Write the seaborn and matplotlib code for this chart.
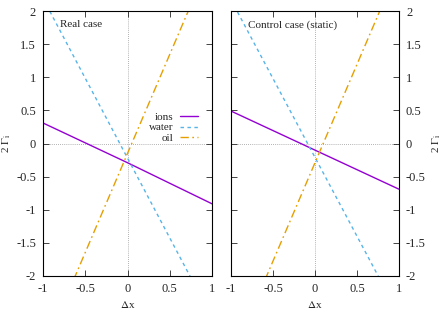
import numpy as np
import pandas as pd
import matplotlib
matplotlib.use("Agg")
import matplotlib.pyplot as plt
import seaborn as sns

# data (values at x = -1, 0, 1)
x = [-1.0, 0.0, 1.0]
series = ["ions", "water", "oil"]

real_ions = [0.31, -0.29, -0.91]
real_water = [2.19, -0.22, -2.63]
real_oil = [-3.14, -0.15, 2.84]

static_ions = [0.49, -0.10, -0.69]
static_water = [2.17, -0.21, -2.59]
static_oil = [-3.26, -0.29, 2.68]

titles = ["Real case", "Control case (static)"]
ticks = [-1, -0.5, 0, 0.5, 1]
yticks = [-2, -1.5, -1, -0.5, 0, 0.5, 1, 1.5, 2]

colors = {"ions": "#9400D3", "water": "#56B4E9", "oil": "#E69F00"}
dashes = {"ions": "", "water": (2.5, 2.5), "oil": (6, 2.5, 1.2, 2.5)}

FS = 9
FS_TXT = 8

sns.set_style("ticks")
plt.rcParams["font.family"] = ["Liberation Serif", "DejaVu Serif"]
plt.rcParams["mathtext.fontset"] = "stix"
plt.rcParams["font.size"] = FS


def make_df(ions, water, oil):
    rows = []
    for name, vals in zip(series, [ions, water, oil]):
        for xi, yi in zip(x, vals):
            rows.append({"x": xi, "y": yi, "series": name})
    return pd.DataFrame(rows)


fig = plt.figure(figsize=(4.43, 3.10), dpi=100)
ax1 = fig.add_axes([43 / 443, 34 / 310, 169 / 443, 265 / 310])
ax2 = fig.add_axes([231 / 443, 34 / 310, 168 / 443, 265 / 310])

dfs = [make_df(real_ions, real_water, real_oil),
       make_df(static_ions, static_water, static_oil)]

for i, (ax, df) in enumerate(zip([ax1, ax2], dfs)):
    sns.lineplot(data=df, x="x", y="y", hue="series", style="series",
                 hue_order=series, style_order=series, palette=colors,
                 dashes=dashes, linewidth=1.0, legend=False, ax=ax)
    handles = list(ax.get_lines()[:3])
    ax.axhline(0, color="#999999", lw=0.6, ls=(0, (1, 1.5)), zorder=0)
    ax.axvline(0, color="#999999", lw=0.6, ls=(0, (1, 1.5)), zorder=0)
    ax.set_xlim(-1, 1)
    ax.set_ylim(-2, 2)
    ax.set_xticks(ticks)
    ax.set_xticklabels(["-1", "-0.5", "0", "0.5", "1"])
    ax.set_yticks(yticks)
    ax.set_yticklabels(["-2", "-1.5", "-1", "-0.5", "0", "0.5", "1", "1.5", "2"])
    ax.tick_params(direction="in", length=4, width=0.6, top=True, right=True,
                   left=True, bottom=True, labelsize=FS, pad=5)
    for sp in ax.spines.values():
        sp.set_linewidth(0.8)
        sp.set_color("black")
    ax.set_xlabel(r"$\Delta$x", fontsize=FS_TXT, labelpad=3)
    ax.text(0.1, 0.948, titles[i], transform=ax.transAxes,
            ha="left", va="center", fontsize=FS_TXT)
    ax.set_ylabel(r"2 $\Gamma_{\rm i}$", fontsize=FS_TXT)
    if i == 0:
        ax.yaxis.set_label_coords(-0.178, 0.5)
        ax.legend(handles=handles, labels=series, loc="center right",
                  bbox_to_anchor=(0.95, 0.56), frameon=False, markerfirst=False,
                  handlelength=1.6, handletextpad=0.6, labelspacing=0.1,
                  borderpad=0, fontsize=FS_TXT)
    else:
        ax.yaxis.tick_right()
        ax.tick_params(left=True, right=True, labelleft=False, labelright=True)
        ax.yaxis.set_label_position("right")
        ax.yaxis.set_label_coords(1.19, 0.5)

fig.savefig("out.png", dpi=100)
